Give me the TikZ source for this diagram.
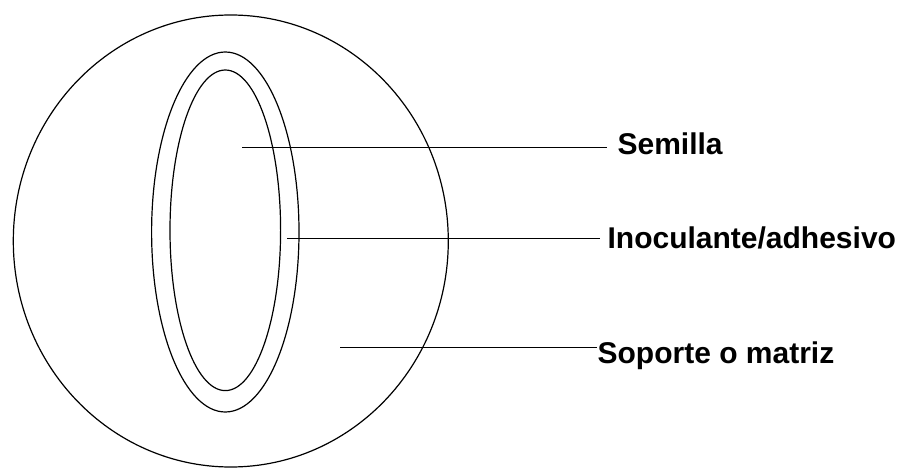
\documentclass[tikz,border=0pt]{standalone}
\usepackage{fontspec}
\setmainfont{Liberation Sans}
\usepackage{tikz}
\usepackage{xcolor}

\begin{document}
\begin{tikzpicture}[x=1pt,y=-1pt,line width=1.2pt]
\tikzset{etiqueta/.style={anchor=base west,inner sep=0pt,font=\fontsize{30}{33}\selectfont\bfseries}}
\useasboundingbox (0,0) rectangle (903,468);
\draw (230.8,241) ellipse [x radius=217.5,y radius=226];
\draw (225.3,232) ellipse [x radius=73.7,y radius=180];
\draw (225.3,230.3) ellipse [x radius=55.3,y radius=160.3];
\coordinate (pSemilla) at (242,147.7);
\coordinate (pInoc) at (287,238.7);
\coordinate (pSoporte) at (340,347.3);
\node[etiqueta] (semilla) at (617,155) {Semilla};
\node[etiqueta] (inoc) at (607,248) {Inoculante/adhesivo};
\node[etiqueta] (soporte) at (597,363) {Soporte o matriz};
\draw (pSemilla) -- ([xshift=-10pt]pSemilla -| semilla.west);
\draw (pInoc) -- ([xshift=-7pt]pInoc -| inoc.west);
\draw (pSoporte) -- (pSoporte -| soporte.west);
\end{tikzpicture}
\end{document}
